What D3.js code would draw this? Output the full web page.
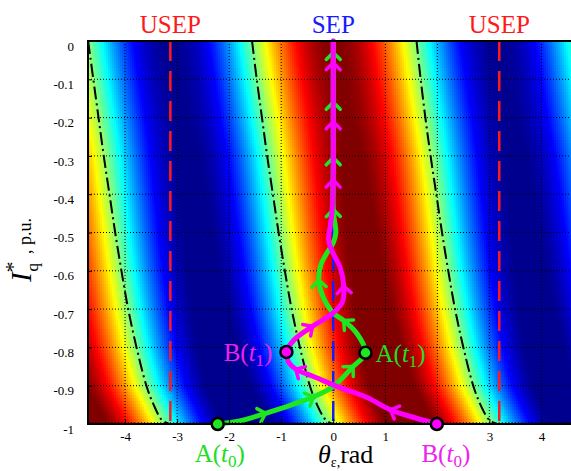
<!DOCTYPE html>
<html>
<head>
<meta charset="utf-8">
<script src="https://cdn.jsdelivr.net/npm/d3@7"></script>
<style>
  body { margin: 0; background: #fff; }
  text { font-family: "Liberation Serif", "Times New Roman", serif; }
</style>
</head>
<body>
<div id="chart"></div>
<script>
// ---- data ----
const iqLevels = [0, -0.1, -0.2, -0.3, -0.4, -0.5, -0.6, -0.7, -0.8, -0.9, -1];
// theta of the field maximum (dark red) on each Iq row
const peakTheta = [0.02, 0.13, 0.25, 0.37, 0.46, 0.55, 0.65, 0.77, 0.92, 1.12, 1.48];
const peakAmp = [1.0, 1.0, 1.0, 1.02, 1.03, 1.04, 1.05, 1.06, 1.08, 1.1, 1.12];

const xTicks = [-4, -3, -2, -1, 0, 1, 2, 3, 4];
const xTickLabels = ['-4', '-3', '-2', '-1', '0', '1', '', '3', '4']; // "2" is hidden under B(t0)
const yTicks = [0, -0.1, -0.2, -0.3, -0.4, -0.5, -0.6, -0.7, -0.8, -0.9, -1];
const yTickLabels = ['0', '-0.1', '-0.2', '-0.3', '-0.4', '-0.5', '-0.6', '-0.7', '-0.8', '-0.9', '-1'];

const usepTheta = [-3.13, 3.19];
const sepTheta = [0];

// dash-dot boundary curves
const boundaryIq = [0, -0.1, -0.2, -0.3, -0.4, -0.5, -0.6, -0.7, -0.8, -0.9, -0.95, -0.99, -1];
const boundaryLeft = [-4.71, -4.61, -4.51, -4.41, -4.30, -4.19, -4.07, -3.94, -3.78, -3.59, -3.45, -3.29, -3.14];
const boundaryMid = [-1.56, -1.47, -1.37, -1.27, -1.16, -1.05, -0.93, -0.80, -0.64, -0.45, -0.31, -0.14, 0];
const boundaryRight = [1.60, 1.68, 1.77, 1.87, 1.98, 2.09, 2.21, 2.34, 2.50, 2.69, 2.83, 3.00, 3.14];

// trajectories [theta, Iq]
const pathA = [
  [-2.22, -1.0], [-1.8, -0.992], [-1.3, -0.972], [-0.8, -0.95], [-0.38, -0.929],
  [0, -0.902], [0.38, -0.85], [0.62, -0.814], [0.45, -0.763], [0.2, -0.73],
  [0, -0.71], [-0.2, -0.667], [-0.28, -0.624], [-0.24, -0.585], [-0.12, -0.553],
  [0, -0.527], [0.05, -0.5], [0.02, -0.465], [0, -0.44], [0, -0.305],
  [0, -0.16], [0, -0.03], [0, 0]
];
const arrowsA = [2, 4, 6, 9, 12, 18, 19, 20, 21];

const pathB = [
  [1.99, -1.0], [1.6, -0.985], [1.1, -0.963], [0.64, -0.93], [0.13, -0.905],
  [-0.38, -0.876], [-0.72, -0.857], [-0.86, -0.838], [-0.9, -0.812], [-0.75, -0.78],
  [-0.4, -0.745], [0, -0.71], [0.18, -0.68], [0.2, -0.64], [0.13, -0.59],
  [0, -0.555], [-0.09, -0.52], [-0.06, -0.485], [-0.02, -0.44], [0, -0.363],
  [0, -0.211], [0, -0.057], [0, 0]
];
const arrowsB = [2, 6, 10, 13, 19, 20, 21];

const pointNames = ['A', 'A', 'B', 'B'];
const pointTimes = ['0', '1', '0', '1'];
const pointTheta = [-2.22, 0.62, 1.99, -0.9];
const pointIq = [-1.0, -0.814, -1.0, -0.812];

// ---- layout ----
const width = 571;
const height = 471;
const colorA = '#1fe61f';
const colorB = '#ff00ff';

const svg = d3.select('#chart')
  .append('svg')
  .attr('width', width)
  .attr('height', height);

const x = d3.scaleLinear().domain([-3 * Math.PI / 2, 3 * Math.PI / 2]).range([88, 578.5]);
const y = d3.scaleLinear().domain([0, -1]).range([41, 424]);

const jet = d3.scaleLinear()
  .domain([0, 0.125, 0.375, 0.625, 0.875, 1])
  .range(['#00008f', '#0000ff', '#00ffff', '#ffff00', '#ff0000', '#800000'])
  .clamp(true);
const phase = d3.scaleLinear().domain(iqLevels).range(peakTheta);
const amp = d3.scaleLinear().domain(iqLevels).range(peakAmp);

// heat map cells
const cw = 2, ch = 3;
const cols = d3.range(x.range()[0], x.range()[1], cw);
const rows = d3.range(y.range()[0], y.range()[1], ch);
const cells = d3.cross(rows, cols);

const plot = svg.append('g');

plot.append('g')
  .attr('shape-rendering', 'crispEdges')
  .selectAll('rect')
  .data(cells)
  .join('rect')
  .attr('x', d => d[1])
  .attr('y', d => d[0])
  .attr('width', cw + 0.5)
  .attr('height', Math.min(ch + 0.5, y.range()[1] - d3.max([0]) ))
  .attr('height', d => Math.min(ch + 0.5, y.range()[1] - d[0]))
  .attr('fill', d => {
    const th = x.invert(d[1] + cw / 2);
    const iq = y.invert(d[0] + ch / 2);
    const v = amp(iq) * Math.cos(th - phase(iq));
    return jet((v + 1) / 2);
  });

// grid
plot.append('g')
  .selectAll('line')
  .data(xTicks)
  .join('line')
  .attr('x1', d => x(d)).attr('x2', d => x(d))
  .attr('y1', y(0)).attr('y2', y(-1))
  .attr('stroke', '#000').attr('stroke-width', 1)
  .attr('stroke-dasharray', '1,2');

plot.append('g')
  .selectAll('line')
  .data(yTicks.slice(1, -1))
  .join('line')
  .attr('x1', x.range()[0]).attr('x2', width)
  .attr('y1', d => y(d)).attr('y2', d => y(d))
  .attr('stroke', '#000').attr('stroke-width', 1)
  .attr('stroke-dasharray', '1,2');

// USEP / SEP lines
plot.append('g')
  .selectAll('line')
  .data(usepTheta)
  .join('line')
  .attr('x1', d => x(d)).attr('x2', d => x(d))
  .attr('y1', y(0)).attr('y2', y(-1))
  .attr('stroke', '#ff1a1a').attr('stroke-width', 2.5)
  .attr('stroke-dasharray', '20,10');

plot.append('g')
  .selectAll('line')
  .data(sepTheta)
  .join('line')
  .attr('x1', d => x(d)).attr('x2', d => x(d))
  .attr('y1', y(0)).attr('y2', y(-1))
  .attr('stroke', '#1a1aff').attr('stroke-width', 2.5)
  .attr('stroke-dasharray', '20,10');

// dash-dot boundaries
const bLine = d3.line()
  .x(d => x(d[0]))
  .y(d => y(d[1]))
  .curve(d3.curveCatmullRom);

[boundaryLeft, boundaryMid, boundaryRight].forEach(b => {
  plot.append('path')
    .datum(b.map((t, i) => [t, boundaryIq[i]]))
    .attr('d', bLine)
    .attr('fill', 'none')
    .attr('stroke', '#000')
    .attr('stroke-width', 2)
    .attr('stroke-dasharray', '13,4,2,4');
});

// trajectories
const tLine = d3.line()
  .x(d => x(d[0]))
  .y(d => y(d[1]))
  .curve(d3.curveCatmullRom.alpha(0.5));

function trajectory(pts, arrows, color) {
  plot.append('path')
    .datum(pts)
    .attr('d', tLine)
    .attr('fill', 'none')
    .attr('stroke', color)
    .attr('stroke-width', 5)
    .attr('stroke-linecap', 'round');

  plot.append('g')
    .selectAll('path')
    .data(arrows)
    .join('path')
    .attr('d', 'M-7,7L0,0L7,7')
    .attr('fill', 'none')
    .attr('stroke', color)
    .attr('stroke-width', 3.5)
    .attr('stroke-linecap', 'round')
    .attr('stroke-linejoin', 'round')
    .attr('transform', i => {
      const p0 = pts[i - 1], p1 = pts[i + 1], p = pts[i];
      const ang = Math.atan2(y(p1[1]) - y(p0[1]), x(p1[0]) - x(p0[0])) * 180 / Math.PI;
      return `translate(${x(p[0])},${y(p[1])}) rotate(${ang + 90})`;
    });
}
trajectory(pathA, arrowsA, colorA);
trajectory(pathB, arrowsB, colorB);

// frame
plot.append('path')
  .attr('d', `M${width},${y(0)}H${x.range()[0]}V${y(-1)}H${width}`)
  .attr('fill', 'none')
  .attr('stroke', '#000')
  .attr('stroke-width', 2);

// ticks
const xAxis = d3.axisBottom(x)
  .tickValues(xTicks)
  .tickSize(-5)
  .tickPadding(8)
  .tickFormat((d, i) => xTickLabels[i]);
svg.append('g')
  .attr('transform', `translate(0,${y(-1)})`)
  .call(xAxis)
  .call(g => g.select('.domain').remove())
  .call(g => g.selectAll('text').attr('font-size', 13).attr('fill', '#000')
    .style('font-family', '"Liberation Serif", serif'));

svg.append('g')
  .selectAll('line')
  .data(d3.range(-4.6875, 4.7, 0.0625))
  .join('line')
  .attr('x1', d => x(d)).attr('x2', d => x(d))
  .attr('y1', y(-1)).attr('y2', y(-1) - 2)
  .attr('stroke', '#000').attr('stroke-width', 0.8);

const yAxis = d3.axisLeft(y)
  .tickValues(yTicks)
  .tickSize(-4)
  .tickPadding(14)
  .tickFormat((d, i) => yTickLabels[i]);
svg.append('g')
  .attr('transform', `translate(${x.range()[0]},0)`)
  .call(yAxis)
  .call(g => g.select('.domain').remove())
  .call(g => g.selectAll('text').attr('font-size', 13).attr('fill', '#000').attr('dy', '0.7em')
    .style('font-family', '"Liberation Serif", serif'));

// markers
const markers = pointTheta.map((t, i) => ({
  name: pointNames[i], time: pointTimes[i], theta: t, iq: pointIq[i]
}));

svg.append('g')
  .selectAll('circle')
  .data(markers)
  .join('circle')
  .attr('cx', d => x(d.theta))
  .attr('cy', d => y(d.iq))
  .attr('r', 6)
  .attr('fill', d => d.name === 'A' ? colorA : colorB)
  .attr('stroke', '#000')
  .attr('stroke-width', 2.5);

const labelPos = [
  { dx: 2, dy: 38, anchor: 'middle' },
  { dx: 10, dy: 9, anchor: 'start' },
  { dx: 9, dy: 38, anchor: 'middle' },
  { dx: -14, dy: 9, anchor: 'end' }
];

const lbl = svg.append('g')
  .selectAll('text')
  .data(markers)
  .join('text')
  .attr('x', (d, i) => x(d.theta) + labelPos[i].dx)
  .attr('y', (d, i) => y(d.iq) + labelPos[i].dy)
  .attr('text-anchor', (d, i) => labelPos[i].anchor)
  .attr('font-size', 25)
  .attr('fill', d => d.name === 'A' ? '#22dd22' : '#ee22ee');
lbl.append('tspan').text(d => d.name + '(');
lbl.append('tspan').attr('font-style', 'italic').text('t');
lbl.append('tspan').attr('font-size', 17).attr('dy', 5).text(d => d.time);
lbl.append('tspan').attr('dy', -5).text(')');

// titles over the lines
const titles = [
  { t: 'USEP', th: usepTheta[0], c: '#ff1a1a' },
  { t: 'SEP', th: sepTheta[0], c: '#1a1aff' },
  { t: 'USEP', th: usepTheta[1], c: '#ff1a1a' }
];
svg.append('g')
  .selectAll('text')
  .data(titles)
  .join('text')
  .attr('x', d => x(d.th))
  .attr('y', 33)
  .attr('text-anchor', 'middle')
  .attr('font-size', 25)
  .attr('fill', d => d.c)
  .text(d => d.t);

// axis titles
const xt = svg.append('text')
  .attr('x', 318)
  .attr('y', 463)
  .attr('font-size', 26)
  .attr('fill', '#000');
xt.append('tspan').attr('font-style', 'italic').text('θ');
xt.append('tspan').attr('font-size', 14).attr('dy', 4).text('ε,');
xt.append('tspan').attr('dy', -4).text('rad');

const yt = svg.append('text')
  .attr('transform', 'translate(31,250) rotate(-90)')
  .attr('text-anchor', 'middle')
  .attr('font-size', 29)
  .attr('fill', '#000');
yt.append('tspan').attr('font-style', 'italic').text('I');
yt.append('tspan').attr('font-size', 22).attr('dy', -11).text('*');
yt.append('tspan').attr('font-size', 17).attr('dx', -10).attr('dy', 18).text('q');
yt.append('tspan').attr('font-size', 18).attr('dy', -7).text('\u00a0\u00a0, p.u.');
</script>
</body>
</html>
